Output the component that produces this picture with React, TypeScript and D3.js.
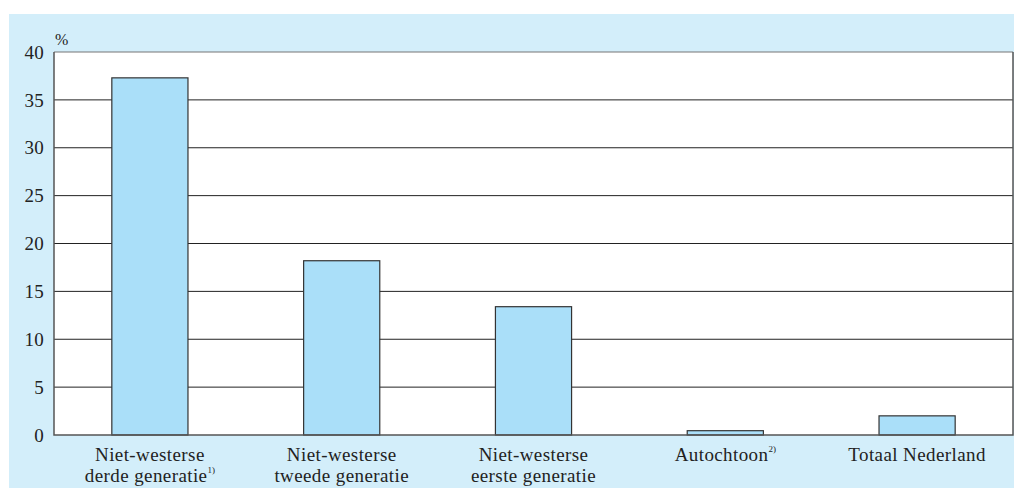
import React from "react";
import * as d3 from "d3";

const categories = [
  ["Niet-westerse", "derde generatie"],
  ["Niet-westerse", "tweede generatie"],
  ["Niet-westerse", "eerste generatie"],
  ["Autochtoon"],
  ["Totaal Nederland"],
];
const footnotes = ["1)", "", "", "2)", ""];
const values = [37.3, 18.2, 13.4, 0.45, 2.0];
const yTicks = [0, 5, 10, 15, 20, 25, 30, 35, 40];

const W = 1014;
const H = 488;
const left = 54;
const right = 1013;
const top = 52;
const bottom = 435;
const FONT = "'Liberation Serif', serif";

export default function App() {
  const x = d3
    .scaleBand<number>()
    .domain(values.map((_, i) => i))
    .range([left, right])
    .paddingInner(0)
    .paddingOuter(0);
  const y = d3.scaleLinear().domain([0, 40]).range([bottom, top]);
  const step = x.step();
  const bw = step * 0.397;

  return (
    <div style={{ position: "absolute", left: 0, top: 0 }}>
      <svg width={W} height={H} style={{ display: "block" }}>
        <rect x={0} y={0} width={W} height={H} fill="#ffffff" />
        <rect x={9} y={14} width={W - 9} height={H - 14} fill="#d3eefa" />
        <rect x={left} y={top} width={right - left} height={bottom - top} fill="#ffffff" />
        {yTicks.slice(1).map((t) => (
          <line
            key={t}
            x1={left}
            x2={right}
            y1={y(t)}
            y2={y(t)}
            stroke={t === 40 ? "#777" : "#222"}
            strokeWidth={1}
          />
        ))}
        {values.map((v, i) => {
          const cx = (x(i) as number) + step / 2;
          return (
            <rect
              key={i}
              x={cx - bw / 2}
              y={y(v)}
              width={bw}
              height={bottom - y(v)}
              fill="#aadff9"
              stroke="#333"
              strokeWidth={1.2}
            />
          );
        })}
        <path
          d={`M${left},${top}V${bottom}H${right}V${top}`}
          fill="none"
          stroke="#555"
          strokeWidth={1.5}
        />
        {yTicks.map((t) => (
          <text
            key={t}
            x={44}
            y={y(t)}
            dy="0.35em"
            textAnchor="end"
            fontFamily={FONT}
            fontSize={19}
            letterSpacing={0.3}
            fill="#222"
          >
            {t}
          </text>
        ))}
        <text x={55} y={45} fontFamily={FONT} fontSize={16} fill="#222">
          %
        </text>
        {categories.map((lines, i) => {
          const cx = (x(i) as number) + step / 2;
          return (
            <text
              key={i}
              textAnchor="middle"
              fontFamily={FONT}
              fontSize={19}
              letterSpacing={0.4}
              fill="#222"
            >
              {lines.map((ln, j) => (
                <tspan key={j} x={cx} y={461 + j * 21}>
                  {ln}
                  {j === lines.length - 1 && footnotes[i] ? (
                    <tspan fontSize={9} dy={-9} letterSpacing={0}>
                      {footnotes[i]}
                    </tspan>
                  ) : null}
                </tspan>
              ))}
            </text>
          );
        })}
      </svg>
    </div>
  );
}
